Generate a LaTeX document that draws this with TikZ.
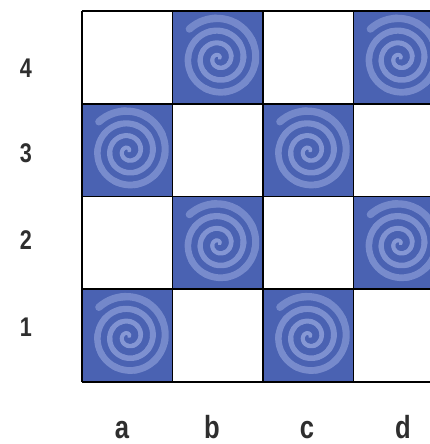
\documentclass[tikz,border=0pt]{standalone}
\usepackage{fontspec}
\setmainfont{Liberation Sans}
\newfontfamily\labfont[FakeStretch=0.8]{Liberation Sans}
\definecolor{sqblue}{HTML}{4A62B2}
\definecolor{swlight}{HTML}{8FA0DA}
\definecolor{labgray}{HTML}{2E2E2E}
\tikzset{
  sqbase/.style={minimum width=90.5pt, minimum height=92.75pt, inner sep=0pt, outer sep=0pt},
  sqwhite/.style={sqbase, fill=white},
  sqdark/.style={sqbase, fill=sqblue},
  gridline/.style={draw=black, line width=1.8pt},
  rowlab/.style={font=\labfont\bfseries\fontsize{27}{27}\selectfont, text=labgray, inner sep=0pt},
  collab/.style={font=\labfont\bfseries\fontsize{32}{32}\selectfont, text=labgray, inner sep=0pt, anchor=base},
  swirl/.pic={
    \begin{scope}
      \clip (-44,-45) rectangle (44,45);
      \foreach \s in {20,55,...,1200}{
        \pgfmathsetmacro\e{\s+40}
        \pgfmathsetmacro\lw{3.5+\s/360*1.2}
        \pgfmathtruncatemacro\mix{92-\s/1220*32}
        \draw[line width=\lw pt, color=swlight!\mix!sqblue, line cap=round]
          plot[domain=\s:\e, samples=8, smooth, variable=\t]
          ({-\t}:{\t/360*12.3});
      }
    \end{scope}
  }
}
\begin{document}
\begin{tikzpicture}[x=1pt,y=-1pt]
\useasboundingbox (0,0) rectangle (430,444);
\fill[white] (0,0) rectangle (430,444);
\begin{scope}
\clip (0,0) rectangle (430,444);
\foreach \c [count=\i from 0] in {a,b,c,d}{
  \foreach \r in {1,2,3,4}{
    \pgfmathtruncatemacro\odd{mod(\i+\r,2)}
    \pgfmathsetmacro\cx{127.25+90.5*\i}
    \pgfmathsetmacro\cy{382-92.75*(\r-0.5)}
    \ifnum\odd=1
      \node[sqdark] (\c\r) at (\cx,\cy) {};
      \pic[shift={(\c\r.center)}, xshift=1pt, yshift=-1pt] {swirl};
    \else
      \node[sqwhite] (\c\r) at (\cx,\cy) {};
    \fi
  }
}
\foreach \r in {1,2,3,4}{
  \draw[gridline] (a\r.north west) -- (d\r.north east);
}
\draw[gridline] (a1.south west) -- (d1.south east);
\foreach \c in {a,b,c,d}{
  \draw[gridline] (\c4.north west) -- (\c1.south west);
}
\draw[gridline] (d4.north east) -- (d1.south east);
\end{scope}
\node[rowlab] (l4) at (26,68) {4};
\node[rowlab] (l3) at (26,153) {3};
\node[rowlab] (l2) at (26,240) {2};
\node[rowlab] (l1) at (26,327) {1};
\node[collab] (la) at (122,438) {a};
\node[collab] (lb) at (212,438) {b};
\node[collab] (lc) at (307,438) {c};
\node[collab] (ld) at (403,438) {d};
\end{tikzpicture}
\end{document}
